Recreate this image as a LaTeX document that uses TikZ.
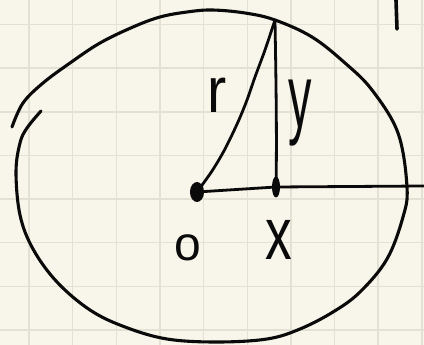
\documentclass[tikz,border=0pt]{standalone}
\usepackage{fontspec}
\setmainfont{Liberation Sans}
\usetikzlibrary{shapes.geometric}
\definecolor{paper}{HTML}{F8F6EA}
\definecolor{gridc}{HTML}{E2E1D3}
\definecolor{ink}{HTML}{0A0A0A}
\begin{document}
\begin{tikzpicture}[x=1pt,y=-1pt,
  pen/.style={draw=ink,line width=3.1pt,line cap=round,line join=round},
  blob/.style={fill=ink,draw=none,ellipse},
  lab/.style={text=ink,inner sep=0pt,anchor=center}]
\fill[paper] (0,0) rectangle (424,345);
\useasboundingbox (0,0) rectangle (424,345);
% grid
\foreach \k in {0,...,9} {
  \draw[gridc,line width=1.5pt] ({29+43.65*\k},0) -- ({29+43.65*\k},345);
}
\foreach \k in {0,...,7} {
  \draw[gridc,line width=1.5pt] (0,{24.5+43.65*\k}) -- (424,{24.5+43.65*\k});
}
% named points
\coordinate (O) at (197,192);
\coordinate (X) at (276,187);
\coordinate (P) at (275,20);
\coordinate (E) at (424,186);
\coordinate (T1) at (396,0);
\coordinate (T2) at (397,29);
% circle-like loop
\draw[pen] plot[smooth,tension=0.6] coordinates {
  (41,111) (27,128) (20,143) (16,172) (20,215) (33,249) (57,282) (90,310)
  (125,327) (167,339) (217,342) (267,339) (300,329) (333,312) (360,292)
  (387,259) (403,217) (407,187) (398,133) (372,90) (345,63) (312,37)
  (275,20) (245,13) (212,10) (187,12) (160,17) (133,27) (100,43) (70,63)
  (43,83) (23,103) (12,127)};
% x-axis
\draw[pen,line width=2.8pt] (O) -- (X) -- (E);
% y segment
\draw[pen,line width=2.8pt] (P) .. controls (276,80) and (277,140) .. (X);
% r segment
\draw[pen,line width=2.8pt] plot[smooth,tension=0.5] coordinates {
  (O) (212,171) (225,149) (238,122) (247,100) (255,77) (265,50) (P)};
% top-right mark
\draw[pen,line width=3.6pt] (T1) -- (T2);
% dots
\node[blob,minimum width=14pt,minimum height=20pt,inner sep=0pt] (Odot) at (O) {};
\node[blob,minimum width=8pt,minimum height=21pt,inner sep=0pt] (Xdot) at (X) {};
% labels
\node[lab,font=\fontsize{64}{64}\selectfont,xscale=0.9] (rl) at (217,95) {r};
\node[lab,font=\fontsize{90}{90}\selectfont,xscale=0.52] (yl) at (300,113) {y};
\node[lab,font=\fontsize{48}{48}\selectfont] (ol) at (188,248) {o};
\node[lab,font=\fontsize{74}{74}\selectfont,xscale=0.72] (xl) at (279,240) {x};
\end{tikzpicture}
\end{document}
